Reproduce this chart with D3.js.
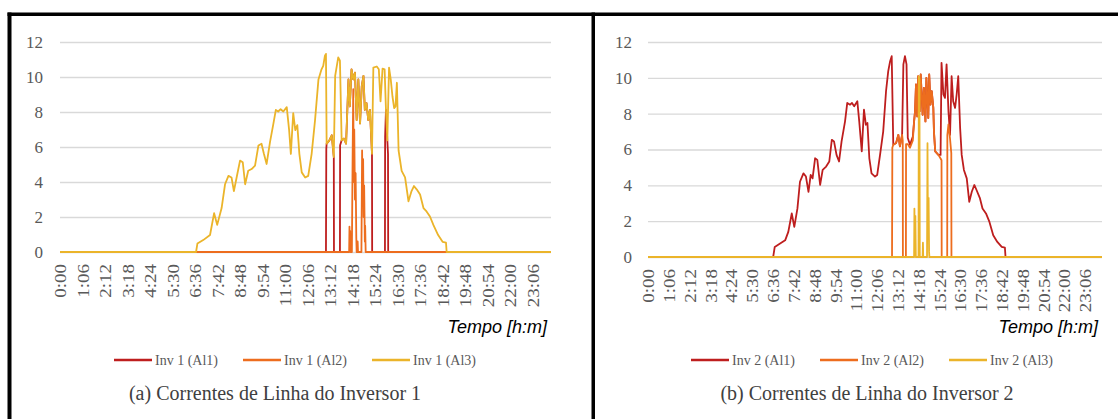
<!DOCTYPE html>
<html>
<head>
<meta charset="utf-8">
<script src="https://cdn.jsdelivr.net/npm/d3@7"></script>
<style>
  body { margin: 0; background: #fff; }
  svg { display: block; }
</style>
</head>
<body>
<div id="chart"></div>
<script>

// tick labels and series (time in minutes, current in A)
var TIME_LABELS = ["0:00", "1:06", "2:12", "3:18", "4:24", "5:30", "6:36", "7:42", "8:48", "9:54", "11:00",
    "12:06", "13:12", "14:18", "15:24", "16:30", "17:36", "18:42", "19:48", "20:54", "22:00", "23:06"];
var Y_TICKS = [0, 2, 4, 6, 8, 10, 12];

var NAMES_1 = ["Inv 1 (Al1)", "Inv 1 (Al2)", "Inv 1 (Al3)"];
var NAMES_2 = ["Inv 2 (Al1)", "Inv 2 (Al2)", "Inv 2 (Al3)"];
var CAPTION_1 = "(a) Correntes de Linha do Inversor 1";
var CAPTION_2 = "(b) Correntes de Linha do Inversor 2";
var AXIS_TITLE = "Tempo [h:m]";

var INV1_AL1 = [[0, 0], [780, 0], [781, 5.9], [782, 6.19], [790, 6.38], [797, 6.67], [803, 5.42], [803.5, 0],
    [821, 0], [821.5, 6.1], [826, 6.38], [833, 6.48], [839, 6.19], [846, 9.86], [850, 8.32], [855, 10.44],
    [860, 9.86], [865, 10.25], [870, 7.54], [875, 9.86], [880, 7.35], [885, 9.48], [890, 10.06], [894, 8.12],
    [899, 8.51], [904, 7.54], [909, 8.12], [915, 5.61], [915.5, 0], [953, 0], [953.5, 6.6], [956, 8.12],
    [960, 6.38], [962, 5.6], [962.5, 0], [1440, 0]];

var INV1_AL2 = [[0, 0], [848, 0], [849, 1.45], [850, 0.3], [851, 1.2], [852, 0], [856, 0], [858, 5], [860, 9.3],
    [861.5, 4], [863, 7], [865, 3], [867, 4.5], [869, 0.8], [870, 0], [872, 0], [873, 0.6], [874, 0],
    [884, 0], [886, 5.8], [887.5, 3.0], [889, 5.3], [890.5, 2.0], [892, 3.8], [894, 0.6], [895, 1.5],
    [896.5, 0], [1440, 0]];

var INV1_AL3 = [[0, 0], [399, 0], [403, 0.48], [420, 0.68], [440, 0.97], [452, 2.22], [461, 1.55], [474, 2.51],
    [484, 3.87], [494, 4.35], [503, 4.26], [510, 3.48], [518, 4.26], [528, 5.22], [536, 5.13], [543, 3.87],
    [552, 4.64], [562, 4.74], [572, 4.93], [582, 6.09], [591, 6.19], [598, 5.61], [606, 5.03], [616, 6.29],
    [626, 7.35], [633, 8.12], [640, 8.03], [647, 8.16], [655, 8.03], [665, 8.28], [672, 6.96], [677, 5.61],
    [684, 7.93], [690, 6.96], [696, 7.25], [702, 5.61], [709, 4.55], [719, 4.26], [728, 4.35], [738, 5.61],
    [748, 7.54], [758, 9.86], [767, 10.44], [772, 10.64], [777, 11.22], [780, 11.32], [782, 6.19], [790, 6.38],
    [797, 6.67], [803, 5.42], [807, 10.06], [816, 11.12], [821, 10.93], [826, 6.38], [833, 6.48], [839, 6.19],
    [846, 9.86], [850, 8.32], [855, 10.44], [860, 9.86], [865, 10.25], [870, 7.54], [875, 9.86], [880, 7.35],
    [885, 9.48], [890, 10.06], [894, 8.12], [899, 8.51], [904, 7.54], [909, 8.12], [915, 5.61], [919, 10.54],
    [929, 10.6], [935, 10.44], [940, 8.61], [946, 10.48], [952, 10.44], [956, 8.12], [960, 6.38], [965, 10.54],
    [970, 9.86], [975, 8.9], [980, 8.22], [984, 8.32], [988, 9.67], [993, 5.8], [1002, 4.64], [1012, 4.26],
    [1022, 2.9], [1031, 3.48], [1038, 3.77], [1046, 3.58], [1056, 3.29], [1066, 2.51], [1075, 2.32],
    [1085, 2.03], [1095, 1.55], [1109, 0.97], [1122, 0.58], [1132, 0.54], [1134, 0], [1440, 0]];

var INV2_AL1 = [[0, 0], [397, 0], [402, 0.56], [419, 0.75], [435, 0.93], [445, 1.4], [456, 2.43], [464, 1.68],
    [474, 2.71], [482, 4.2], [493, 4.67], [501, 4.49], [509, 3.64], [516, 4.58], [522, 4.39], [530, 5.51],
    [537, 5.42], [546, 4.02], [554, 4.86], [565, 5.05], [575, 5.33], [583, 6.54], [590, 6.45], [598, 5.7],
    [606, 5.33], [614, 6.45], [625, 7.57], [632, 8.6], [641, 8.5], [647, 8.6], [654, 8.41], [664, 8.69],
    [670, 7.57], [678, 5.89], [685, 8.22], [691, 7.38], [696, 7.48], [702, 5.51], [709, 4.67], [720, 4.49],
    [727, 4.58], [736, 5.7], [746, 7.0], [755, 9.25], [762, 10.37], [768, 10.93], [773, 11.21], [778, 6.26],
    [787, 6.36], [794, 6.82], [799, 6.17], [806, 6.82], [810, 10.75], [815, 11.21], [820, 10.75], [824, 6.64],
    [831, 6.26], [840, 6.73], [844, 7.57], [847, 8.13], [850, 9.63], [854, 7.85], [857, 10.09], [862, 8.13],
    [865, 10.19], [871, 7.94], [875, 9.44], [880, 7.57], [883, 10.0], [889, 7.76], [892, 10.19], [896, 8.5],
    [900, 9.25], [905, 8.32], [907, 7.0], [911, 5.89], [921, 5.7], [928, 5.7], [931, 10.84], [937, 9.07],
    [942, 8.88], [947, 10.75], [953, 8.13], [958, 6.82], [963, 10.09], [968, 8.69], [974, 8.32], [979, 9.07],
    [984, 10.09], [990, 7.2], [995, 5.7], [1002, 4.86], [1011, 4.39], [1019, 3.08], [1027, 3.64], [1035, 4.02],
    [1042, 3.74], [1053, 3.27], [1061, 2.71], [1072, 2.43], [1083, 1.96], [1095, 1.21], [1108, 0.84],
    [1122, 0.56], [1132, 0.52], [1134, 0], [1440, 0]];

var INV2_AL2 = [[0, 0], [774, 0], [775, 6.1], [778, 6.26], [787, 6.36], [794, 6.82], [799, 6.17], [806, 6.82],
    [808, 6.5], [808.5, 0], [818, 0], [818.5, 6.3], [824, 6.3], [831, 6.1], [840, 6.5], [844, 7.57],
    [847, 8.13], [850, 9.63], [854, 7.85], [857, 10.09], [862, 8.13], [865, 10.19], [871, 7.94], [875, 9.44],
    [880, 7.57], [883, 10.0], [889, 7.76], [892, 10.19], [896, 8.5], [900, 9.25], [905, 8.32], [907, 7.0],
    [911, 5.89], [921, 5.7], [928, 5.5], [931, 5.4], [931.5, 0], [949, 0], [949.5, 6.8], [953, 7.4],
    [958, 6.6], [962, 5.8], [962.5, 0], [1440, 0]];

var INV2_AL3 = [[0, 0], [844, 0], [845, 2.7], [846.5, 0.4], [848, 2.3], [849.5, 0], [858, 0], [859, 10.1],
    [861, 9.9], [862, 0], [871, 0], [872, 0.8], [873, 0], [885, 0], [886.5, 6.35], [888, 1.0], [890, 3.3],
    [891.5, 0.3], [892.5, 0], [1440, 0]];

var COLORS = ["#BE1E1E", "#ED6D1E", "#EBB42A"];

var svg = d3.select("#chart").append("svg")
    .attr("width", 1118)
    .attr("height", 419);

// thick black frame around the two sub-figures
svg.append("rect").attr("x", 7.5).attr("y", 12.5).attr("width", 1111).attr("height", 3.5).attr("fill", "#000");
svg.append("rect").attr("x", 7.5).attr("y", 12.5).attr("width", 4).attr("height", 407).attr("fill", "#000");
svg.append("rect").attr("x", 591.5).attr("y", 12.5).attr("width", 3.5).attr("height", 407).attr("fill", "#000");

function toMinutes(label) {
    var p = label.split(":");
    return +p[0] * 60 + +p[1];
}

function drawPanel(p) {
    var xScale = d3.scaleLinear().domain([0, 1440]).range([p.left, p.right]);
    var yScale = d3.scaleLinear().domain([0, 12]).range([p.bottom, p.top]);

    var g = svg.append("g");

    // y axis + gridlines
    var yAxis = g.append("g")
        .attr("transform", "translate(" + p.left + ",0)")
        .call(d3.axisLeft(yScale).tickValues(Y_TICKS).tickSize(-(p.right - p.left)).tickPadding(p.yPad));
    yAxis.select(".domain").remove();
    yAxis.selectAll("line").attr("stroke", "#D9D9D9").attr("stroke-width", 1.3);
    yAxis.selectAll("text")
        .attr("fill", "#595959")
        .style("font-family", "'Liberation Serif', 'Times New Roman', serif")
        .style("font-size", "17px");

    // x axis, rotated time labels
    var xAxis = g.append("g")
        .attr("transform", "translate(0," + p.bottom + ")")
        .call(d3.axisBottom(xScale)
            .tickValues(TIME_LABELS.map(toMinutes))
            .tickFormat(function(d, i) { return TIME_LABELS[i]; })
            .tickSize(0));
    xAxis.select(".domain").remove();
    xAxis.selectAll("text")
        .attr("x", -12)
        .attr("y", 0)
        .attr("dy", "0.36em")
        .attr("transform", "rotate(-90) scale(1,0.84)")
        .style("text-anchor", "end")
        .attr("fill", "#595959")
        .style("font-family", "'Liberation Serif', 'Times New Roman', serif")
        .style("font-size", "19px");

    var line = d3.line()
        .x(function(d) { return xScale(d[0]); })
        .y(function(d) { return yScale(d[1]); });

    p.series.forEach(function(s, i) {
        g.append("path")
            .datum(s)
            .attr("d", line)
            .attr("fill", "none")
            .attr("stroke", COLORS[i])
            .attr("stroke-width", 1.8)
            .attr("stroke-linejoin", "round");
    });

    g.append("text")
        .attr("x", p.right - 4)
        .attr("y", 333)
        .attr("text-anchor", "end")
        .style("font-family", "'Liberation Sans', Arial, sans-serif")
        .style("font-style", "italic")
        .style("font-size", "18px")
        .attr("fill", "#000")
        .text(AXIS_TITLE);

    // legend
    p.names.forEach(function(name, i) {
        var lx = p.legendX + i * 129;
        g.append("line")
            .attr("x1", lx).attr("x2", lx + 38)
            .attr("y1", 360).attr("y2", 360)
            .attr("stroke", COLORS[i])
            .attr("stroke-width", 2.5);
        g.append("text")
            .attr("x", lx + 41)
            .attr("y", 365)
            .attr("fill", "#595959")
            .style("font-family", "'Liberation Serif', 'Times New Roman', serif")
            .style("font-size", "14px")
            .text(name);
    });

    g.append("text")
        .attr("x", p.captionX)
        .attr("y", 400)
        .attr("text-anchor", "middle")
        .attr("fill", "#404040")
        .style("font-family", "'Liberation Serif', 'Times New Roman', serif")
        .style("font-size", "20px")
        .text(p.caption);
}

drawPanel({
    left: 60, right: 551, top: 42, bottom: 252, yPad: 17,
    series: [INV1_AL1, INV1_AL2, INV1_AL3], names: NAMES_1,
    legendX: 114, caption: CAPTION_1, captionX: 275
});

drawPanel({
    left: 648, right: 1102, top: 42, bottom: 257, yPad: 16,
    series: [INV2_AL1, INV2_AL2, INV2_AL3], names: NAMES_2,
    legendX: 691, caption: CAPTION_2, captionX: 867
});

</script>
</body>
</html>
